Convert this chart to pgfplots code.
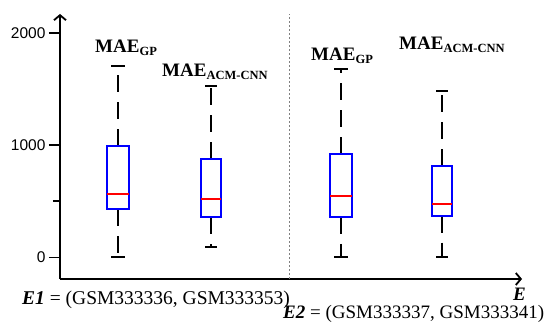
\documentclass[border=0pt]{standalone}
\usepackage{fontspec}
\setmainfont{Liberation Serif}
\setsansfont{Liberation Sans}
\usepackage{pgfplots}
\pgfplotsset{compat=1.18}
\usepgfplotslibrary{statistics}
\usetikzlibrary{arrows.meta}

\pgfplotsset{
  mybox/.style={
    boxplot/draw direction=y,
    boxplot/draw/box/.code={\draw[blue, line width=2pt] (boxplot box cs:\pgfplotsboxplotvalue{lower quartile},0) rectangle (boxplot box cs:\pgfplotsboxplotvalue{upper quartile},1);},
    boxplot/draw/median/.code={\draw[red, line width=2.2pt] (boxplot box cs:\pgfplotsboxplotvalue{median},0) -- (boxplot box cs:\pgfplotsboxplotvalue{median},1);},
    boxplot/draw/lower whisker/.code={%
      \draw[black, line width=2.2pt, dash pattern=on 17pt off 10pt] (boxplot box cs:\pgfplotsboxplotvalue{lower quartile},0.5) -- (boxplot box cs:\pgfplotsboxplotvalue{lower whisker},0.5);
      \draw[black, line width=2pt] (boxplot box cs:\pgfplotsboxplotvalue{lower whisker},0.2) -- (boxplot box cs:\pgfplotsboxplotvalue{lower whisker},0.8);},
    boxplot/draw/upper whisker/.code={%
      \draw[black, line width=2.2pt, dash pattern=on 17pt off 10pt] (boxplot box cs:\pgfplotsboxplotvalue{upper quartile},0.5) -- (boxplot box cs:\pgfplotsboxplotvalue{upper whisker},0.5);
      \draw[black, line width=2pt] (boxplot box cs:\pgfplotsboxplotvalue{upper whisker},0.2) -- (boxplot box cs:\pgfplotsboxplotvalue{upper whisker},0.8);},
  }
}

\begin{document}
\begin{tikzpicture}
\useasboundingbox (-60pt,-53pt) rectangle (491pt,279pt);
\begin{axis}[
  scale only axis, width=462pt, height=265pt,
  xmin=60, xmax=522, ymin=-193.6, ymax=2170,
  axis lines=left,
  axis line style={line width=1.8pt, -{Straight Barb[length=5pt,width=12pt,line width=1.8pt]}},
  xtick=\empty,
  ytick={0,1000,2000},
  extra y ticks={500}, extra y tick labels={},
  extra y tick style={major tick length=7pt},
  tick align=outside, major tick length=11pt,
  tick style={line width=1.5pt, black},
  yticklabel style={font=\sffamily\fontsize{15.5}{15.5}\selectfont},
  /pgf/number format/assume math mode=true,
  /pgf/number format/set thousands separator={},
  clip=false,
]
\addplot[gray, line width=0.7pt, dash pattern=on 2pt off 2pt] coordinates {(289,-193.6) (289,2170)};
\addplot[mybox, boxplot prepared={draw position=118, lower whisker=0, lower quartile=428, median=562, upper quartile=995, upper whisker=1706, box extend=22}] coordinates {};
\addplot[mybox, boxplot prepared={draw position=211, lower whisker=95, lower quartile=357, median=517, upper quartile=877, upper whisker=1528, box extend=20}] coordinates {};
\addplot[mybox, boxplot prepared={draw position=341, lower whisker=0, lower quartile=360, median=550, upper quartile=924, upper whisker=1680, box extend=22}] coordinates {};
\addplot[mybox, boxplot prepared={draw position=442, lower whisker=0, lower quartile=371, median=478, upper quartile=817, upper whisker=1484, box extend=20}] coordinates {};
\end{axis}
\node[anchor=base west, inner sep=0] at (35pt,226pt) {\fontsize{19}{19}\selectfont\bfseries MAE\raisebox{-2.5pt}{\fontsize{12.5}{12.5}\selectfont GP}};
\node[anchor=base west, inner sep=0] at (102pt,202pt) {\fontsize{19}{19}\selectfont\bfseries MAE\raisebox{-2.5pt}{\fontsize{12.5}{12.5}\selectfont ACM-CNN}};
\node[anchor=base west, inner sep=0] at (251pt,218pt) {\fontsize{19}{19}\selectfont\bfseries MAE\raisebox{-2.5pt}{\fontsize{12.5}{12.5}\selectfont GP}};
\node[anchor=base west, inner sep=0] at (339pt,229pt) {\fontsize{19}{19}\selectfont\bfseries MAE\raisebox{-2.5pt}{\fontsize{12.5}{12.5}\selectfont ACM-CNN}};
\node[anchor=base west, inner sep=0] at (-38pt,-25pt) {\fontsize{19.5}{19.5}\selectfont\textbf{\textit{E1}} = (GSM333336, GSM333353)};
\node[anchor=base west, inner sep=0] at (223pt,-39pt) {\fontsize{19}{19}\selectfont\textbf{\textit{E2}} = (GSM333337, GSM333341)};
\node[anchor=base west, inner sep=0] at (453pt,-21pt) {\fontsize{19}{19}\selectfont\textbf{\textit{E}}};
\end{tikzpicture}
\end{document}
